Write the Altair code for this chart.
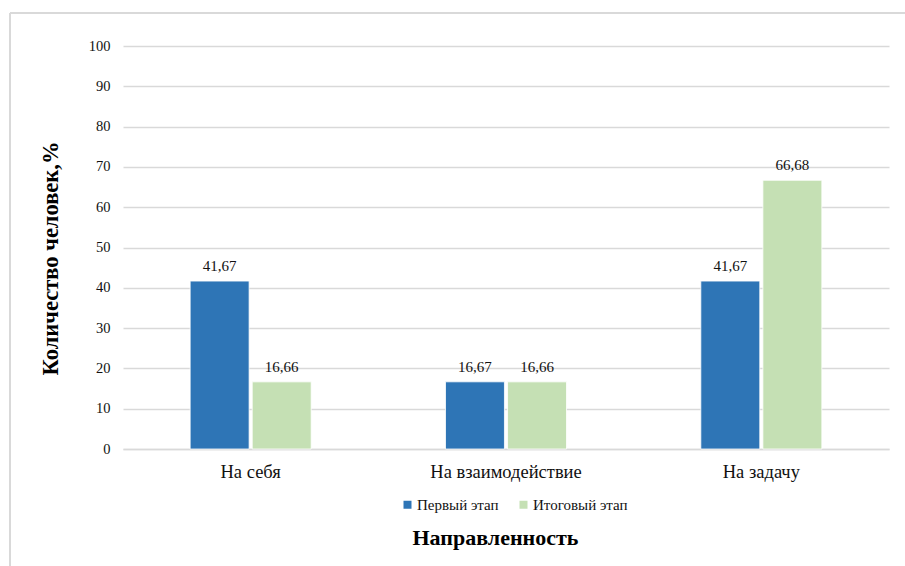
import altair as alt
import pandas as pd

categories = ["На себя", "На взаимодействие", "На задачу"]
series = ["Первый этап", "Итоговый этап"]
first_stage = [41.67, 16.67, 41.67]
final_stage = [16.66, 16.66, 66.68]
colors = ["#2E75B6", "#C5E0B4"]

rows = []
for i, c in enumerate(categories):
    for s, vals in zip(series, [first_stage, final_stage]):
        v = vals[i]
        rows.append({"cat": c, "series": s, "value": v,
                     "label": f"{v:.2f}".replace(".", ",")})
df = pd.DataFrame(rows)

FONT = "Liberation Serif"

x = alt.X("cat:N", sort=categories,
          scale=alt.Scale(paddingInner=0.526, paddingOuter=0.263),
          axis=alt.Axis(title="Направленность", labelAngle=0, labelFontSize=18.5,
                        labelFont=FONT, labelColor="#111", labelPadding=13,
                        ticks=False, domainColor="#d9d9d9", domainWidth=1.5,
                        titleFont=FONT, titleFontSize=22, titleFontWeight="bold",
                        titleColor="#000", titleX=372, titleY=88,
                        titleBaseline="middle", titleAnchor="middle"))
xo = alt.XOffset("series:N", sort=series,
                 scale=alt.Scale(paddingInner=0.05, paddingOuter=0))
y = alt.Y("value:Q", scale=alt.Scale(domain=[0, 100]),
          axis=alt.Axis(title="Количество человек,%", values=list(range(0, 101, 10)),
                        labelFont=FONT, labelFontSize=14.5, labelColor="#111",
                        labelPadding=13, ticks=False, domain=False,
                        gridColor="#d9d9d9", gridWidth=1.3,
                        titleFont=FONT, titleFontSize=22.5, titleFontWeight="bold",
                        titleColor="#000", titleX=-73, titleY=212,
                        titleBaseline="middle", titleAngle=270))

bars = alt.Chart(df).mark_bar(stroke="white", strokeWidth=0.8).encode(
    x=x, xOffset=xo, y=y,
    color=alt.Color("series:N", sort=series,
                    scale=alt.Scale(domain=series, range=colors),
                    legend=alt.Legend(title=None, orient="none", direction="horizontal",
                                      legendX=277, legendY=451, symbolType="square",
                                      symbolSize=64, symbolStrokeWidth=0,
                                      labelFont=FONT, labelFontSize=15,
                                      labelColor="#111", columnPadding=17,
                                      labelOffset=2)),
)

text = alt.Chart(df).mark_text(dy=-15, font=FONT, fontSize=15, color="#111",
                               baseline="middle").encode(
    x=alt.X("cat:N", sort=categories), xOffset=alt.XOffset("series:N", sort=series),
    y="value:Q", text="label:N")

frame_left = alt.Chart(df).mark_rule(color="#d9d9d9", strokeWidth=1.5).encode(
    x=alt.value(-113), y=alt.value(-33), y2=alt.value(540))
frame_top = alt.Chart(df).mark_rule(color="#d9d9d9", strokeWidth=1.5).encode(
    x=alt.value(-113), x2=alt.value(800), y=alt.value(-33))

chart = alt.layer(frame_left, frame_top, bars, text).properties(
    width=766, height=403,
    autosize=alt.AutoSizeParams(type="none"),
    padding={"left": 123, "top": 46, "right": 16, "bottom": 117},
    background="white",
).configure_view(stroke=None)

chart.save("out.html", embed_options={"renderer": "svg", "actions": False})
